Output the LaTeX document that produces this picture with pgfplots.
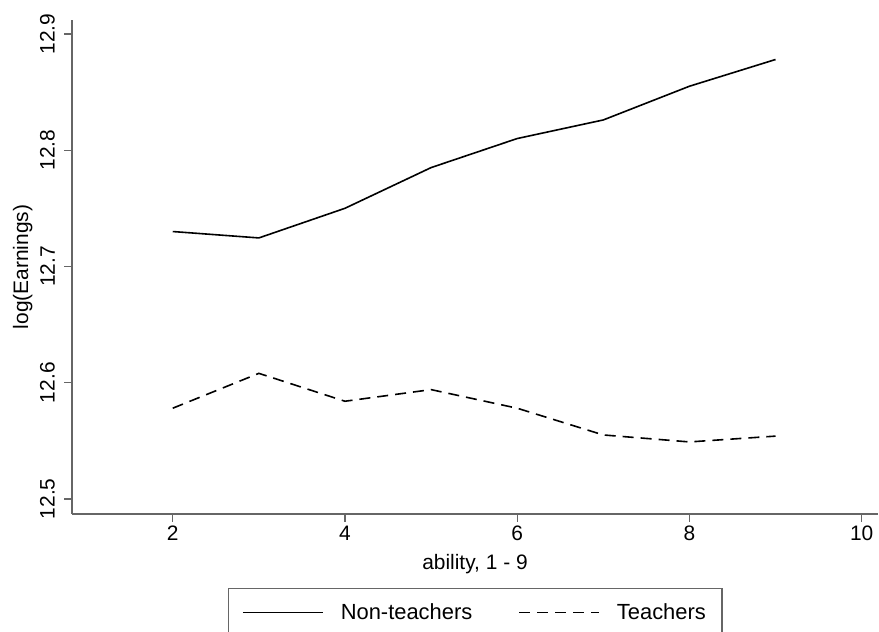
\documentclass[border=0pt]{standalone}
\usepackage{pgfplots}
\pgfplotsset{compat=1.18}
\usepackage{fontspec}
\setmainfont{Liberation Sans}
\begin{document}
\begin{tikzpicture}[x=1bp,y=1bp]
\useasboundingbox (0,0) rectangle (879,632);
\begin{axis}[
  at={(72bp,118bp)}, anchor=south west,
  scale only axis, width=806bp, height=494bp,
  xmin=0.83, xmax=10.19, ymin=12.487, ymax=12.912,
  axis x line*=bottom, axis y line*=left,
  axis line style={draw=black!60, line width=1.3bp},
  xtick={2,4,6,8,10}, ytick={12.5,12.6,12.7,12.8,12.9},
  tick style={draw=black!60, line width=1.3bp}, tick align=outside,
  major tick length=8bp,
  /pgf/number format/assume math mode=true,
  yticklabel style={rotate=90, anchor=south, inner sep=9bp, /pgf/number format/fixed, /pgf/number format/precision=1, /pgf/number format/fixed zerofill},
  xticklabel style={anchor=north, inner sep=4bp},
  font=\fontsize{21}{25}\selectfont,
  xlabel={ability, 1 - 9},
  ylabel={log(Earnings)},
  xlabel style={at={(axis description cs:0.5,-0.101)}, anchor=center},
  ylabel style={at={(axis description cs:-0.061,0.5)}, anchor=center},
  legend style={at={(axis description cs:0.5,-0.150)}, anchor=north,
    legend columns=2, draw=black!60, line width=1.3bp,
    font=\fontsize{22}{26}\selectfont, inner xsep=14bp, inner ysep=13bp,
    /tikz/every odd column/.append style={column sep=15bp},
    /tikz/every even column/.append style={column sep=44bp}},
  legend image code/.code={\draw[#1] (0bp,0bp) -- (80bp,0bp);},
  legend cell align=left,
]
\addplot[black, line width=1.6bp] coordinates {
(2,12.730) (3,12.7245) (4,12.750) (5,12.785) (6,12.810) (7,12.826) (8,12.855) (9,12.878)};
\addlegendentry{Non-teachers}
\addplot[black, line width=1.6bp, dash pattern=on 11bp off 7bp] coordinates {
(2,12.578) (3,12.608) (4,12.584) (5,12.594) (6,12.578) (7,12.555) (8,12.549) (9,12.554)};
\addlegendentry{Teachers}
\end{axis}
\end{tikzpicture}
\end{document}
